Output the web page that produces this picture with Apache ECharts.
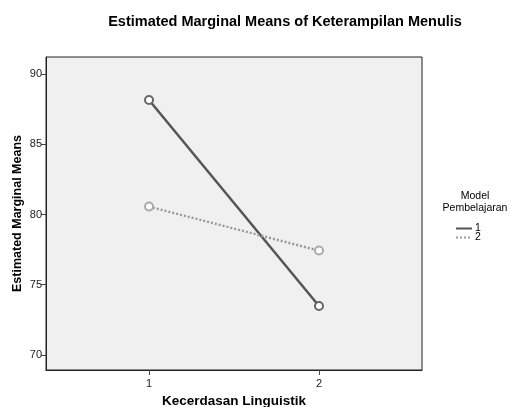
<!DOCTYPE html>
<html><head><meta charset="utf-8">
<script src="https://cdn.jsdelivr.net/npm/echarts@6/dist/echarts.min.js"></script>
<style>html,body{margin:0;padding:0;background:#fff}#c{width:511px;height:407px}</style>
</head><body><div id="c"></div>
<script>
const xCategories = [1, 2];
const series1 = [88.15, 73.49];
const series2 = [80.56, 77.43];
const seriesNames = ['1', '2'];
const yTicks = [70, 75, 80, 85, 90];

const chart = echarts.init(document.getElementById('c'));
const font = 'Arial, "Liberation Sans", sans-serif';
chart.setOption({
  animation: false,
  backgroundColor: '#fff',
  title: [{
    text: 'Estimated Marginal Means of Keterampilan Menulis',
    left: 280, top: 9, textAlign: 'center',
    textStyle: {fontFamily: font, fontSize: 14.5, fontWeight: 'bold', color: '#000'}
  }, {
    text: 'Model\nPembelajaran',
    left: 470, top: 185, textAlign: 'center',
    textStyle: {fontFamily: font, fontSize: 10.5, fontWeight: 'normal', color: '#000', lineHeight: 12}
  }],
  legend: {
    orient: 'vertical', left: 450, top: 218,
    itemWidth: 16, itemHeight: 8, itemGap: -2,
    textStyle: {fontFamily: font, fontSize: 10.5, color: '#000', padding: [0,0,0,-2]},
    itemStyle: {opacity: 0},
    data: seriesNames
  },
  grid: {left: 46, right: 89, top: 57, bottom: 37, outerBoundsMode: 'none', containLabel: false, show: true, backgroundColor: '#f0f0f0', borderColor: '#222', borderWidth: 1},
  xAxis: {
    type: 'value', min: 0.394, max: 2.606,
    name: 'Kecerdasan Linguistik', nameLocation: 'middle', nameGap: 24, nameMoveOverlap: false,
    nameTextStyle: {fontFamily: font, fontSize: 13.5, fontWeight: 'bold', color: '#000'},
    axisLine: {show: true, lineStyle: {color: '#222'}},
    axisTick: {show: true, length: 5, lineStyle: {color: '#444'}, customValues: xCategories},
    axisLabel: {fontFamily: font, fontSize: 11, color: '#222', margin: 8, customValues: xCategories},
    splitLine: {show: false}
  },
  yAxis: {
    type: 'value', min: 68.93, max: 91.21,
    name: 'Estimated Marginal Means', nameLocation: 'middle', nameGap: 22, nameMoveOverlap: false,
    nameTextStyle: {fontFamily: font, fontSize: 12.5, fontWeight: 'bold', color: '#000'},
    axisLine: {show: true, lineStyle: {color: '#222'}},
    axisTick: {show: true, length: 5, lineStyle: {color: '#444'}, customValues: yTicks},
    axisLabel: {fontFamily: font, fontSize: 11, color: '#222', margin: 4, customValues: yTicks},
    splitLine: {show: false}
  },
  series: [{
    name: seriesNames[0], type: 'line',
    data: xCategories.map((x, i) => [x, series1[i]]),
    symbol: 'emptyCircle', symbolSize: 8,
    lineStyle: {color: '#555', width: 2.5, type: 'solid'},
    itemStyle: {color: '#666', borderColor: '#555', borderWidth: 1}
  }, {
    name: seriesNames[1], type: 'line',
    data: xCategories.map((x, i) => [x, series2[i]]),
    symbol: 'emptyCircle', symbolSize: 8,
    lineStyle: {color: '#999', width: 2.5, type: [2, 2]},
    itemStyle: {color: '#aaa', borderColor: '#999', borderWidth: 1}
  }]
});
</script></body></html>
